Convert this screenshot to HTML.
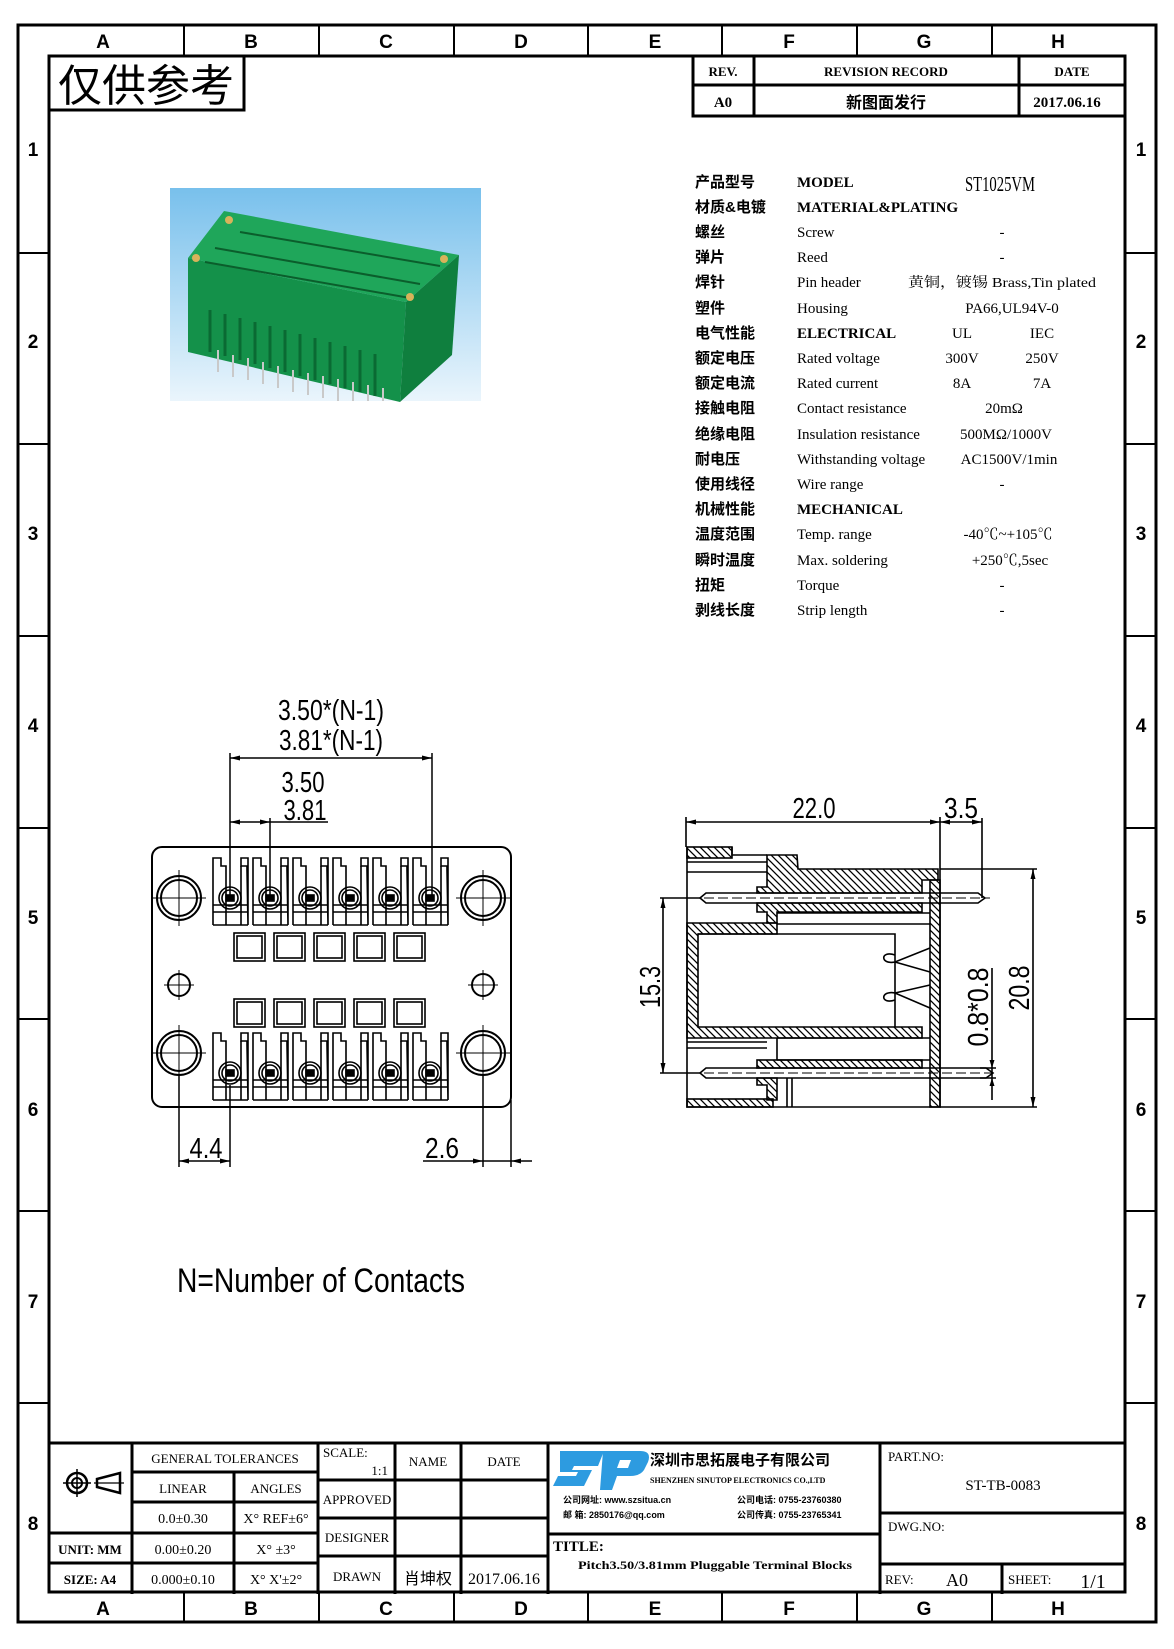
<!DOCTYPE html>
<html><head><meta charset="utf-8">
<style>
html,body{margin:0;padding:0;background:#fff;}
svg{display:block;}
text{font-family:"Liberation Sans","Noto Sans CJK SC",sans-serif;fill:#000;}
text.c,.c text{font-family:"Liberation Sans","Noto Sans CJK SC",sans-serif;font-weight:bold;}
text.s,.s text{font-family:"Liberation Serif","Noto Serif CJK SC",serif;}
</style></head><body>
<svg width="1174" height="1649" viewBox="0 0 1174 1649" xmlns="http://www.w3.org/2000/svg">
<defs>
<pattern id="h" patternUnits="userSpaceOnUse" width="7" height="7"><path d="M-1,-1 L8,8 M-8,-1 L1,8 M6,-1 L15,8" stroke="#000" stroke-width="1.3"/></pattern>
<linearGradient id="sky" x1="0" y1="0" x2="0" y2="1"><stop offset="0" stop-color="#78c0ec"/><stop offset="1" stop-color="#eaf5fc"/></linearGradient>
</defs>
<g fill="none" stroke="#000">
<rect x="18" y="25" width="1138" height="1597" stroke-width="3"/>
<rect x="49" y="56" width="1076" height="1536" stroke-width="3"/>
<g stroke-width="2">
<line x1="184" y1="25" x2="184" y2="56"/><line x1="319" y1="25" x2="319" y2="56"/><line x1="454" y1="25" x2="454" y2="56"/><line x1="588" y1="25" x2="588" y2="56"/><line x1="722" y1="25" x2="722" y2="56"/><line x1="857" y1="25" x2="857" y2="56"/><line x1="992" y1="25" x2="992" y2="56"/>
<line x1="184" y1="1592" x2="184" y2="1622"/><line x1="319" y1="1592" x2="319" y2="1622"/><line x1="454" y1="1592" x2="454" y2="1622"/><line x1="588" y1="1592" x2="588" y2="1622"/><line x1="722" y1="1592" x2="722" y2="1622"/><line x1="857" y1="1592" x2="857" y2="1622"/><line x1="992" y1="1592" x2="992" y2="1622"/>
<line x1="18" y1="253" x2="49" y2="253"/><line x1="18" y1="444" x2="49" y2="444"/><line x1="18" y1="636" x2="49" y2="636"/><line x1="18" y1="828" x2="49" y2="828"/><line x1="18" y1="1019" x2="49" y2="1019"/><line x1="18" y1="1211" x2="49" y2="1211"/><line x1="18" y1="1403" x2="49" y2="1403"/>
<line x1="1125" y1="253" x2="1156" y2="253"/><line x1="1125" y1="444" x2="1156" y2="444"/><line x1="1125" y1="636" x2="1156" y2="636"/><line x1="1125" y1="828" x2="1156" y2="828"/><line x1="1125" y1="1019" x2="1156" y2="1019"/><line x1="1125" y1="1211" x2="1156" y2="1211"/><line x1="1125" y1="1403" x2="1156" y2="1403"/>
</g>
<rect x="49" y="56" width="195" height="54" stroke-width="3"/>
<rect x="693" y="56" width="432" height="60" stroke-width="3"/>
<line x1="693" y1="85" x2="1125" y2="85" stroke-width="3"/>
<line x1="754" y1="56" x2="754" y2="116" stroke-width="3"/>
<line x1="1019" y1="56" x2="1019" y2="116" stroke-width="3"/>
<g stroke-width="3">
<line x1="49" y1="1443" x2="1125" y2="1443"/>
<line x1="132" y1="1443" x2="132" y2="1594"/>
<line x1="318" y1="1443" x2="318" y2="1594"/>
<line x1="395" y1="1443" x2="395" y2="1594"/>
<line x1="461" y1="1443" x2="461" y2="1594"/>
<line x1="548" y1="1443" x2="548" y2="1594"/>
<line x1="880" y1="1443" x2="880" y2="1594"/>
<line x1="49" y1="1533" x2="132" y2="1533"/><line x1="49" y1="1563" x2="132" y2="1563"/>
<line x1="132" y1="1472" x2="318" y2="1472"/><line x1="132" y1="1502" x2="318" y2="1502"/><line x1="132" y1="1533" x2="318" y2="1533"/><line x1="132" y1="1563" x2="318" y2="1563"/>
<line x1="234" y1="1472" x2="234" y2="1594"/>
<line x1="318" y1="1480" x2="548" y2="1480"/><line x1="318" y1="1518" x2="548" y2="1518"/><line x1="318" y1="1556" x2="548" y2="1556"/>
<line x1="548" y1="1534" x2="880" y2="1534"/>
<line x1="880" y1="1513" x2="1125" y2="1513"/><line x1="880" y1="1564" x2="1125" y2="1564"/>
<line x1="1002" y1="1564" x2="1002" y2="1594"/>
</g>
<circle cx="77" cy="1483" r="10" stroke-width="2.5"/><circle cx="77" cy="1483" r="5" stroke-width="2"/>
<line x1="63" y1="1483" x2="91" y2="1483" stroke-width="1.5"/><line x1="77" y1="1469" x2="77" y2="1497" stroke-width="1.5"/>
<path d="M97,1479 L97,1487 L120,1493 L120,1473 Z" stroke-width="2.5"/>
<line x1="94" y1="1483" x2="124" y2="1483" stroke-width="1.2"/>
</g>

<g class="c" font-size="19" text-anchor="middle">
<text x="103" y="48">A</text><text x="251" y="48">B</text><text x="386" y="48">C</text><text x="521" y="48">D</text><text x="655" y="48">E</text><text x="789" y="48">F</text><text x="924" y="48">G</text><text x="1058" y="48">H</text>
<text x="103" y="1615">A</text><text x="251" y="1615">B</text><text x="386" y="1615">C</text><text x="521" y="1615">D</text><text x="655" y="1615">E</text><text x="789" y="1615">F</text><text x="924" y="1615">G</text><text x="1058" y="1615">H</text>
<text x="33" y="156">1</text><text x="33" y="348">2</text><text x="33" y="540">3</text><text x="33" y="732">4</text><text x="33" y="924">5</text><text x="33" y="1116">6</text><text x="33" y="1308">7</text><text x="33" y="1530">8</text>
<text x="1141" y="156">1</text><text x="1141" y="348">2</text><text x="1141" y="540">3</text><text x="1141" y="732">4</text><text x="1141" y="924">5</text><text x="1141" y="1116">6</text><text x="1141" y="1308">7</text><text x="1141" y="1530">8</text>
</g>
<text x="58" y="101" font-size="44" style="font-family:'Noto Sans CJK SC',sans-serif">仅供参考</text>

<g class="s" font-weight="bold" font-size="13" text-anchor="middle">
<text x="723" y="76">REV.</text><text x="886" y="76">REVISION RECORD</text><text x="1072" y="76">DATE</text>
<text x="723" y="107" font-size="15">A0</text><text x="1067" y="107" font-size="15">2017.06.16</text>
</g>
<text x="886" y="108" font-size="16" text-anchor="middle" class="c">新图面发行</text>

<!-- photo -->
<rect x="170" y="188" width="311" height="213" fill="url(#sky)"/>
<polygon points="188,258 224,211 459,255 406,302" fill="#1fa65a"/>
<polygon points="188,258 406,302 400,402 188,352" fill="#14914a"/>
<polygon points="406,302 459,255 452,355 400,402" fill="#0f7f3e"/>
<g stroke="#0b5e2c" stroke-width="2">
<path d="M215,248 L420,284 M240,232 L440,266 M205,262 L410,298"/>
</g>
<g stroke="#c9c9c9" stroke-width="2">
<path d="M218,350 L218,372 M233,355 L233,377 M248,358 L248,380 M263,362 L263,384 M278,366 L278,388 M293,370 L293,392 M308,373 L308,395 M323,376 L323,398 M338,379 L338,401 M353,382 L353,401 M368,385 L368,401 M383,388 L383,401"/>
</g>
<g stroke="#0a6a33" stroke-width="3">
<path d="M210,310 L210,352 M225,314 L225,356 M240,318 L240,360 M255,322 L255,364 M270,326 L270,368 M285,330 L285,372 M300,334 L300,376 M315,338 L315,380 M330,342 L330,384 M345,346 L345,388 M360,350 L360,392 M375,354 L375,396"/>
</g>
<circle cx="229" cy="220" r="4" fill="#d8b35a"/><circle cx="196" cy="258" r="4" fill="#d8b35a"/><circle cx="444" cy="259" r="4" fill="#d8b35a"/><circle cx="410" cy="297" r="4" fill="#d8b35a"/>

<!-- spec table -->
<g font-size="15" class="c">
<text x="695" y="187">产品型号</text><text x="695" y="212">材质&amp;电镀</text><text x="695" y="237">螺丝</text><text x="695" y="262">弹片</text><text x="695" y="287">焊针</text><text x="695" y="313">塑件</text><text x="695" y="338">电气性能</text><text x="695" y="363">额定电压</text><text x="695" y="388">额定电流</text><text x="695" y="413">接触电阻</text><text x="695" y="439">绝缘电阻</text><text x="695" y="464">耐电压</text><text x="695" y="489">使用线径</text><text x="695" y="514">机械性能</text><text x="695" y="539">温度范围</text><text x="695" y="565">瞬时温度</text><text x="695" y="590">扭矩</text><text x="695" y="615">剥线长度</text>
</g>
<g font-size="15" class="s">
<text x="797" y="187" font-weight="bold">MODEL</text><text x="797" y="212" font-weight="bold">MATERIAL&amp;PLATING</text><text x="797" y="237">Screw</text><text x="797" y="262">Reed</text><text x="797" y="287">Pin header</text><text x="797" y="313">Housing</text><text x="797" y="338" font-weight="bold">ELECTRICAL</text><text x="797" y="363">Rated voltage</text><text x="797" y="388">Rated current</text><text x="797" y="413">Contact resistance</text><text x="797" y="439">Insulation resistance</text><text x="797" y="464">Withstanding voltage</text><text x="797" y="489">Wire range</text><text x="797" y="514" font-weight="bold">MECHANICAL</text><text x="797" y="539">Temp. range</text><text x="797" y="565">Max. soldering</text><text x="797" y="590">Torque</text><text x="797" y="615">Strip length</text>
</g>
<g font-size="15" text-anchor="middle" class="s">
<text x="1000" y="191" font-size="21" textLength="70" lengthAdjust="spacingAndGlyphs">ST1025VM</text>
<text x="1002" y="237">-</text><text x="1002" y="262">-</text>
<text x="908" y="287" text-anchor="start" font-size="14" textLength="188" lengthAdjust="spacingAndGlyphs">黄铜，镀锡 Brass,Tin plated</text>
<text x="1012" y="313">PA66,UL94V-0</text>
<text x="962" y="338">UL</text><text x="1042" y="338">IEC</text>
<text x="962" y="363">300V</text><text x="1042" y="363">250V</text>
<text x="962" y="388">8A</text><text x="1042" y="388">7A</text>
<text x="1004" y="413">20mΩ</text><text x="1006" y="439">500MΩ/1000V</text><text x="1009" y="464">AC1500V/1min</text>
<text x="1002" y="489">-</text><text x="1008" y="539">-40℃~+105℃</text><text x="1010" y="565">+250℃,5sec</text>
<text x="1002" y="590">-</text><text x="1002" y="615">-</text>
</g>

<!-- front view -->
<g fill="none" stroke="#000">
<rect x="152" y="847" width="359" height="260" rx="10" stroke-width="2"/>
<g stroke-width="2">
<circle cx="179" cy="898" r="22"/><circle cx="179" cy="898" r="18"/>
<circle cx="483" cy="898" r="22"/><circle cx="483" cy="898" r="18"/>
<circle cx="179" cy="1053" r="22"/><circle cx="179" cy="1053" r="18"/>
<circle cx="483" cy="1053" r="22"/><circle cx="483" cy="1053" r="18"/>
<circle cx="179" cy="985" r="11"/><circle cx="483" cy="985" r="11"/>
</g>
<g stroke-width="1">
<path d="M152,898 H206 M179,870 V926 M456,898 H510 M483,870 V926 M152,1053 H206 M179,1025 V1081 M456,1053 H510 M483,1025 V1081 M164,985 H194 M179,970 V1000 M468,985 H498 M483,970 V1000"/>
</g>
</g>
<g id="trow" fill="none" stroke="#000" stroke-width="1.6">
<g id="cell">
<path d="M213,925 V858 H221 V866 H226 V870 M247,870 V866 H241 V858 H248 V925 Z M213,925 H248"/>
<path d="M226,870 V925 M241,866 V925 M213,912 H248 M213,905 H248"/>
<circle cx="230" cy="898" r="11"/><circle cx="230" cy="898" r="8"/>
<rect x="226" y="895" width="8" height="6" fill="#000"/>
</g>
<use href="#cell" x="40"/><use href="#cell" x="80"/><use href="#cell" x="120"/><use href="#cell" x="160"/><use href="#cell" x="200"/>
</g>
<use href="#trow" y="175"/>
<g fill="none" stroke="#000" stroke-width="1.6">
<g id="sq"><rect x="234" y="933" width="31" height="28"/><rect x="237" y="936" width="25" height="22"/></g>
<use href="#sq" x="40"/><use href="#sq" x="80"/><use href="#sq" x="120"/><use href="#sq" x="160"/>
<use href="#sq" y="66"/><use href="#sq" x="40" y="66"/><use href="#sq" x="80" y="66"/><use href="#sq" x="120" y="66"/><use href="#sq" x="160" y="66"/>
</g>
<g fill="none" stroke="#000" stroke-width="1.5">
<path d="M230,753 V898 M432,753 V898 M230,758 H432 M270,818 V898 M230,822 H328 M179,1075 V1167 M230,1085 V1167 M179,1161 H230 M483,1075 V1167 M511,1100 V1167 M423,1161 H532"/>
</g>
<g fill="#000">
<path d="M230,758 l10,-2.5 v5 z M432,758 l-10,-2.5 v5 z M230,822 l10,-2.5 v5 z M270,822 l-10,-2.5 v5 z M179,1161 l10,-2.5 v5z M230,1161 l-10,-2.5 v5z M483,1161 l-10,-2.5 v5z M511,1161 l10,-2.5 v5z"/>
</g>
<g font-size="29" text-anchor="middle">
<text x="331" y="720" textLength="106" lengthAdjust="spacingAndGlyphs">3.50*(N-1)</text>
<text x="331" y="750" textLength="104" lengthAdjust="spacingAndGlyphs">3.81*(N-1)</text>
<text x="303" y="792" textLength="43" lengthAdjust="spacingAndGlyphs">3.50</text>
<text x="305" y="820" textLength="43" lengthAdjust="spacingAndGlyphs">3.81</text>
<text x="206" y="1158" textLength="33" lengthAdjust="spacingAndGlyphs">4.4</text>
<text x="442" y="1158" textLength="34" lengthAdjust="spacingAndGlyphs">2.6</text>
</g>
<text x="177" y="1292" font-size="34" textLength="288" lengthAdjust="spacingAndGlyphs">N=Number of Contacts</text>

<!-- side view -->
<g fill="url(#h)" stroke="#000" stroke-width="1.6">
<rect x="687" y="847" width="45" height="11"/>
<polygon points="767,855 797,855 798,869 938,869 938,880 922,880 922,893 757,893 757,887 767,887"/>
<polygon points="757,903 922,903 922,912 777,912 777,923 767,923 767,912 757,912"/>
<polygon points="687,923 777,923 777,934 698,934 698,1027 922,1027 922,1038 687,1038"/>
<rect x="930" y="880" width="10" height="227"/>
<rect x="757" y="1060" width="165" height="8"/>
<polygon points="757,1078 777,1078 777,1100 767,1100 767,1085 757,1085"/>
<rect x="687" y="1099" width="86" height="8"/>
</g>
<g fill="none" stroke="#000" stroke-width="1.6">
<path d="M687,847 V1107 H940 V870 M732,847 V855 H767 M687,862 H767 M687,872 H767 M777,913 H930 M777,924 H930 M698,934 H895 V1027 M777,1038 H930 M777,1060 H930 M687,1042 H767 M687,1048 H767 M787,1078 V1107 M792,1078 V1107 M777,1038 V1060"/>
<path d="M895,955 C880,950 880,965 895,962 L930,948 M895,962 L930,972 M895,1000 C880,1005 880,990 895,993 L930,1008 M895,993 L930,985"/>
<path d="M700,898 L706,893 H978 L985,898 L978,903 H706 Z"/>
<path d="M700,1073 L706,1068 H986 L993,1073 L986,1078 H706 Z"/>
<path d="M686,817 V847 M940,817 V870 M982,818 V898 M686,822 H982 M940,869 H1037 M940,1107 H1037 M1033,869 V1107 M660,898 H700 M660,1073 H700 M663,898 V1073 M992,968 V1100 M980,1068 H996 M980,1078 H996"/>
</g>
<g stroke="#000" stroke-width="1" stroke-dasharray="10,4" fill="none"><path d="M690,898 H990 M690,1073 H995"/></g>
<g fill="#000">
<path d="M686,822 l10,-2.5 v5z M940,822 l-10,-2.5 v5z M940,822 l10,-2.5 v5z M982,822 l-10,-2.5 v5z M1033,869 l-2.5,10 h5z M1033,1107 l-2.5,-10 h5z M663,898 l-2.5,10 h5z M663,1073 l-2.5,-10 h5z M992,1068 l-2.5,-8 h5z M992,1078 l-2.5,8 h5z"/>
</g>
<g font-size="29" text-anchor="middle">
<text x="814" y="818" textLength="43" lengthAdjust="spacingAndGlyphs">22.0</text>
<text x="961" y="818" textLength="34" lengthAdjust="spacingAndGlyphs">3.5</text>
<text transform="translate(660,987) rotate(-90)" textLength="42" lengthAdjust="spacingAndGlyphs">15.3</text>
<text transform="translate(988,1007) rotate(-90)" textLength="79" lengthAdjust="spacingAndGlyphs">0.8*0.8</text>
<text transform="translate(1029,988) rotate(-90)" textLength="45" lengthAdjust="spacingAndGlyphs">20.8</text>
</g>

<!-- title block text -->
<g class="s" font-size="13" text-anchor="middle">
<text x="225" y="1463">GENERAL TOLERANCES</text>
<text x="183" y="1493">LINEAR</text><text x="276" y="1493">ANGLES</text>
<text x="183" y="1523" font-size="14">0.0±0.30</text><text x="276" y="1523" font-size="14">X° REF±6°</text>
<text x="183" y="1554" font-size="14">0.00±0.20</text><text x="276" y="1554" font-size="14">X° ±3°</text>
<text x="183" y="1584" font-size="14">0.000±0.10</text><text x="276" y="1584" font-size="14">X° X'±2°</text>
<text x="90" y="1554" font-weight="bold">UNIT: MM</text><text x="90" y="1584" font-weight="bold">SIZE: A4</text>
<text x="428" y="1466">NAME</text><text x="504" y="1466">DATE</text>
<text x="357" y="1504">APPROVED</text><text x="357" y="1542">DESIGNER</text><text x="357" y="1581">DRAWN</text>
<text x="504" y="1584" font-size="16">2017.06.16</text>
</g>
<text x="323" y="1457" class="s" font-size="13">SCALE:</text>
<text x="388" y="1475" class="s" font-size="13" text-anchor="end">1:1</text>
<text x="428" y="1584" font-size="16" text-anchor="middle" style="font-family:'Noto Sans CJK SC',sans-serif">肖坤权</text>
<path d="M560,1451 H604 L598,1466 H574 L572,1470 H592 L584,1486 H553 L558,1476 H576 L578,1472 H560 Z" fill="#2d9be0"/>
<path d="M603,1451 H640 Q652,1451 648,1462 L644,1470 Q640,1476 630,1476 H617 L612,1490 H600 Z M620,1460 L617,1468 H628 L631,1460 Z" fill="#2d9be0" fill-rule="evenodd"/>
<text x="650" y="1465" font-size="15" class="c">深圳市思拓展电子有限公司</text>
<text x="650" y="1483" font-size="8" class="s" font-weight="bold">SHENZHEN SINUTOP ELECTRONICS CO.,LTD</text>
<g font-size="9" class="c">
<text x="563" y="1503">公司网址: www.szsitua.cn</text><text x="563" y="1518">邮 箱: 2850176@qq.com</text>
<text x="737" y="1503">公司电话: 0755-23760380</text><text x="737" y="1518">公司传真: 0755-23765341</text>
</g>
<text x="553" y="1551" class="s" font-weight="bold" font-size="15">TITLE:</text>
<text x="578" y="1569" class="s" font-weight="bold" font-size="12" textLength="274" lengthAdjust="spacingAndGlyphs">Pitch3.50/3.81mm Pluggable Terminal Blocks</text>
<g class="s" font-size="13">
<text x="888" y="1461">PART.NO:</text>
<text x="1003" y="1490" text-anchor="middle" font-size="15">ST-TB-0083</text>
<text x="888" y="1531">DWG.NO:</text>
<text x="885" y="1584">REV:</text><text x="957" y="1586" font-size="18" text-anchor="middle">A0</text>
<text x="1008" y="1584">SHEET:</text><text x="1093" y="1588" font-size="20" text-anchor="middle">1/1</text>
</g>
</svg>
</body></html>
